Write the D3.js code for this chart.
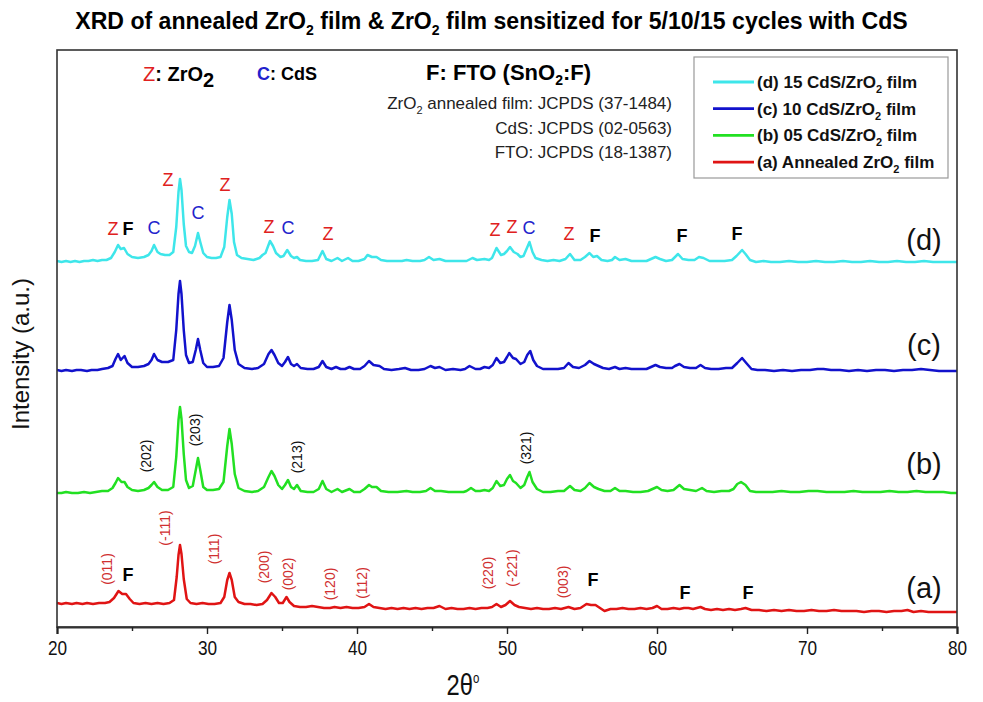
<!DOCTYPE html>
<html>
<head>
<meta charset="utf-8">
<script src="https://cdn.jsdelivr.net/npm/d3@7"></script>
<style>
  body { margin: 0; background: #fff; }
  svg { display: block; }
</style>
</head>
<body>
<div id="chart"></div>
<script>
// XRD scans, [2theta, intensity a.u.] (intensity above each scan's offset)
var scanA = [[20.0,24],[20.3,23],[20.6,24],[21.0,23],[21.3,24],[21.7,23],[22.0,24],[22.4,23],[22.8,24],[23.2,24],[23.5,25],[23.8,29],[24.1,36],[24.35,33],[24.6,33],[24.85,28],[25.1,24],[25.5,23],[25.9,24],[26.3,23],[26.7,24],[27.1,23],[27.5,24],[27.8,27],[27.98,50],[28.1,72],[28.2,82],[28.3,73],[28.45,48],[28.65,28],[28.9,24],[29.3,23],[29.7,24],[30.1,23],[30.5,23],[30.9,24],[31.15,30],[31.35,47],[31.5,54],[31.65,47],[31.85,30],[32.1,25],[32.5,23],[32.9,23],[33.3,22],[33.7,23],[34.0,27],[34.3,34],[34.55,30],[34.8,24],[35.05,24],[35.3,30],[35.5,25],[35.8,21],[36.2,20],[36.6,20],[37.0,21],[37.4,20],[37.8,19],[38.2,19],[38.5,20],[38.9,19],[39.3,20],[39.7,19],[40.1,19],[40.5,20],[40.8,23],[41.1,20],[41.5,19],[41.9,18],[42.3,19],[42.7,18],[43.1,19],[43.5,18],[43.9,19],[44.3,18],[44.7,19],[45.1,19],[45.5,21],[45.9,18],[46.3,19],[46.7,18],[47.1,18],[47.5,19],[47.9,18],[48.3,19],[48.7,19],[49.0,20],[49.3,23],[49.6,20],[49.9,22],[50.2,26],[50.5,22],[50.8,20],[51.2,19],[51.6,18],[52.0,19],[52.4,18],[52.8,18],[53.2,19],[53.6,18],[54.1,20],[54.5,18],[54.9,19],[55.3,23],[55.6,22],[55.9,22],[56.2,19],[56.5,16],[56.9,18],[57.3,18],[57.7,19],[58.1,18],[58.5,18],[58.9,19],[59.3,18],[59.7,19],[60.0,21],[60.3,18],[60.7,18],[61.1,19],[61.5,18],[61.8,19],[62.1,19],[62.4,18],[62.9,20],[63.2,18],[63.6,17],[64.0,18],[64.4,17],[64.8,18],[65.2,17],[65.6,18],[65.9,19],[66.3,17],[66.8,17],[67.3,16],[67.8,17],[68.3,16],[68.8,17],[69.3,16],[69.8,16],[70.3,17],[70.8,16],[71.3,16],[71.8,17],[72.3,16],[72.8,16],[73.3,16],[73.8,15],[74.3,16],[74.8,16],[75.3,15],[75.8,16],[76.3,16],[76.7,17],[77.1,15],[77.6,16],[78.1,15],[78.6,15],[79.1,15],[79.6,15],[80.0,15]];
var scanB = [[20.0,19],[20.3,19],[20.6,20],[21.0,19],[21.4,19],[21.8,20],[22.2,19],[22.6,20],[23.0,21],[23.4,21],[23.7,24],[23.9,29],[24.07,34],[24.3,30],[24.5,30],[24.7,25],[25.0,22],[25.4,21],[25.8,22],[26.1,24],[26.3,27],[26.47,30],[26.7,25],[27.0,22],[27.4,22],[27.75,25],[27.95,55],[28.1,92],[28.2,105],[28.3,93],[28.45,58],[28.6,32],[28.8,24],[29.05,26],[29.25,42],[29.4,54],[29.55,42],[29.75,25],[30.0,22],[30.4,22],[30.8,23],[31.1,30],[31.35,66],[31.5,83],[31.65,68],[31.85,38],[32.1,24],[32.5,21],[33.0,20],[33.4,21],[33.8,25],[34.1,35],[34.3,41],[34.5,36],[34.75,27],[35.0,23],[35.2,27],[35.4,32],[35.6,25],[35.8,23],[36.0,27],[36.25,21],[36.7,20],[37.1,20],[37.45,23],[37.7,31],[37.95,23],[38.3,20],[38.7,23],[39.0,20],[39.5,23],[39.8,20],[40.2,20],[40.5,23],[40.8,27],[41.0,25],[41.3,25],[41.6,21],[42.1,20],[42.7,20],[43.3,21],[43.7,20],[44.2,20],[44.6,21],[44.9,24],[45.2,21],[45.6,21],[46.1,20],[46.6,20],[47.1,20],[47.3,21],[47.6,24],[47.9,21],[48.2,21],[48.5,22],[48.8,21],[49.05,24],[49.3,31],[49.55,26],[49.8,27],[50.0,33],[50.2,37],[50.4,31],[50.6,29],[50.9,24],[51.15,27],[51.35,35],[51.5,40],[51.7,30],[52.0,23],[52.4,20],[52.9,20],[53.4,21],[53.8,21],[54.2,26],[54.5,22],[54.9,21],[55.2,24],[55.5,29],[55.8,25],[56.1,23],[56.5,21],[56.9,21],[57.2,24],[57.5,21],[57.9,21],[58.4,20],[58.9,20],[59.4,21],[59.7,23],[60.0,25],[60.3,22],[60.7,21],[61.1,22],[61.5,27],[61.8,23],[62.2,22],[62.6,21],[63.0,24],[63.3,21],[63.8,20],[64.3,21],[64.8,21],[65.1,23],[65.35,28],[65.6,30],[65.9,27],[66.2,21],[66.6,20],[67.1,20],[67.7,20],[68.3,21],[68.9,20],[69.5,20],[70.1,21],[70.7,21],[71.3,20],[71.9,20],[72.5,20],[73.1,21],[73.7,20],[74.3,20],[74.9,20],[75.5,21],[76.1,20],[76.7,20],[77.3,21],[77.9,20],[78.5,20],[79.1,20],[79.6,19],[80.0,19]];
var scanC = [[20.0,20],[20.3,19],[20.6,20],[21.0,19],[21.3,20],[21.6,20],[22.0,19],[22.3,20],[22.7,20],[23.0,21],[23.4,22],[23.7,24],[23.9,31],[24.07,36],[24.25,30],[24.5,34],[24.7,27],[25.0,23],[25.4,23],[25.8,24],[26.1,26],[26.3,30],[26.47,36],[26.7,30],[27.0,28],[27.4,28],[27.75,30],[27.95,60],[28.1,96],[28.2,109],[28.3,96],[28.45,60],[28.6,35],[28.8,27],[29.05,28],[29.25,40],[29.4,51],[29.55,40],[29.75,27],[30.0,23],[30.4,23],[30.8,24],[31.1,32],[31.35,68],[31.5,85],[31.65,70],[31.85,40],[32.1,26],[32.5,22],[33.0,21],[33.4,22],[33.8,26],[34.1,36],[34.3,40],[34.5,35],[34.75,27],[35.0,24],[35.2,28],[35.4,33],[35.6,26],[35.8,24],[36.0,26],[36.25,22],[36.7,21],[37.1,21],[37.45,23],[37.7,29],[37.95,23],[38.3,21],[38.6,23],[38.9,21],[39.2,21],[39.5,23],[39.8,21],[40.2,21],[40.5,24],[40.8,29],[41.1,25],[41.5,24],[41.8,21],[42.3,20],[42.8,21],[43.2,22],[43.6,20],[44.1,20],[44.5,21],[44.9,24],[45.2,22],[45.5,23],[45.9,20],[46.4,21],[46.9,20],[47.2,21],[47.5,24],[47.9,21],[48.2,21],[48.5,23],[48.8,22],[49.05,25],[49.3,32],[49.55,27],[49.8,28],[50.0,33],[50.15,37],[50.4,32],[50.6,31],[50.9,26],[51.15,28],[51.35,35],[51.55,39],[51.75,30],[52.0,24],[52.4,21],[52.9,21],[53.4,21],[53.8,22],[54.1,27],[54.4,23],[54.8,22],[55.2,25],[55.5,29],[55.8,26],[56.1,24],[56.4,22],[56.8,21],[57.2,23],[57.5,21],[57.9,22],[58.3,21],[58.8,21],[59.3,21],[59.6,23],[59.9,25],[60.2,23],[60.6,22],[61.0,22],[61.2,24],[61.5,26],[61.8,23],[62.2,22],[62.6,22],[62.9,25],[63.2,22],[63.6,21],[64.1,21],[64.6,22],[65.0,22],[65.35,27],[65.67,32],[65.95,27],[66.3,21],[66.7,20],[67.2,20],[67.8,19],[68.4,20],[69.0,19],[69.6,20],[70.2,20],[70.7,21],[71.1,21],[71.6,20],[72.2,20],[72.8,19],[73.4,20],[74.0,19],[74.6,20],[75.2,20],[75.8,19],[76.4,20],[77.0,20],[77.6,21],[78.2,20],[78.8,19],[79.4,19],[80.0,19]];
var scanD = [[20.0,21],[20.3,20],[20.6,21],[20.9,20],[21.2,21],[21.5,20],[21.8,21],[22.1,21],[22.4,22],[22.7,21],[23.0,22],[23.3,22],[23.6,24],[23.85,30],[24.07,37],[24.25,33],[24.47,34],[24.7,28],[25.0,25],[25.4,24],[25.8,25],[26.1,27],[26.3,31],[26.47,37],[26.7,30],[26.9,28],[27.2,27],[27.5,27],[27.75,30],[27.95,55],[28.1,90],[28.2,103],[28.3,92],[28.45,58],[28.6,36],[28.8,30],[29.0,29],[29.2,36],[29.4,49],[29.55,40],[29.75,29],[30.0,25],[30.3,24],[30.6,24],[30.9,25],[31.15,35],[31.35,65],[31.5,82],[31.65,68],[31.8,40],[32.0,27],[32.3,24],[32.7,23],[33.1,22],[33.5,24],[33.7,27],[33.9,29],[34.1,37],[34.2,41],[34.4,36],[34.6,29],[34.9,25],[35.1,26],[35.35,32],[35.6,26],[35.8,24],[36.0,25],[36.2,22],[36.6,21],[37.0,21],[37.4,22],[37.7,31],[37.95,23],[38.3,21],[38.7,24],[39.0,21],[39.4,24],[39.7,21],[40.1,21],[40.5,23],[40.7,27],[41.0,25],[41.3,25],[41.6,22],[42.0,21],[42.5,21],[43.0,21],[43.3,22],[43.7,21],[44.2,21],[44.5,22],[44.8,25],[45.1,22],[45.5,23],[45.9,21],[46.4,21],[46.9,21],[47.3,21],[47.7,24],[48.0,22],[48.5,23],[48.8,22],[49.0,24],[49.3,34],[49.6,27],[49.8,28],[50.0,31],[50.2,35],[50.45,30],[50.7,28],[50.9,25],[51.1,26],[51.3,33],[51.5,40],[51.7,30],[51.9,24],[52.3,22],[52.7,21],[53.1,22],[53.5,21],[53.9,23],[54.2,28],[54.5,22],[54.9,22],[55.2,25],[55.5,29],[55.75,25],[56.0,26],[56.3,22],[56.7,21],[57.0,22],[57.2,25],[57.5,22],[57.9,23],[58.3,21],[58.8,21],[59.3,21],[59.6,23],[59.9,25],[60.2,23],[60.6,21],[61.0,22],[61.4,28],[61.7,23],[62.1,22],[62.5,22],[62.8,25],[63.1,24],[63.5,21],[64.0,21],[64.5,21],[65.0,22],[65.3,26],[65.67,32],[65.9,28],[66.2,22],[66.6,20],[67.1,21],[67.6,20],[68.2,20],[68.8,21],[69.4,20],[70.0,20],[70.6,21],[71.2,20],[71.8,20],[72.4,21],[73.0,20],[73.6,20],[74.2,21],[74.8,20],[75.4,20],[76.0,21],[76.6,20],[77.2,20],[77.8,21],[78.4,20],[79.0,20],[79.5,20],[80.0,20]];

var scans = [scanA, scanB, scanC, scanD];
var offsets = [0, 115, 237, 345];              // vertical stacking, a.u.
var scanTags = ['(a)', '(b)', '(c)', '(d)'];
var legendNames = [
  ['(d) 15 CdS/ZrO', '2', ' film'],
  ['(c) 10 CdS/ZrO', '2', ' film'],
  ['(b) 05 CdS/ZrO', '2', ' film'],
  ['(a) Annealed ZrO', '2', ' film']
];
var xTicks = [20, 30, 40, 50, 60, 70, 80];
var xMinorTicks = [25, 35, 45, 55, 65, 75];

// phase marks on scan (d): [2theta, height above offset, phase]
var phaseMarksD = [[23.73,53,'Z'],[24.73,53,'F'],[26.47,54,'C'],[27.4,102,'Z'],[29.4,69,'C'],[31.2,97,'Z'],[34.13,55,'Z'],[35.4,54,'C'],[38.07,48,'Z'],[49.2,52,'Z'],[50.33,55,'Z'],[51.47,54,'C'],[54.13,48,'Z'],[55.87,46,'F'],[61.67,46,'F'],[65.33,48,'F']];
// ZrO2 planes on scan (a)
var hklA = [[23.33,58,'(011)'],[27.2,99,'(-111)'],[30.47,78,'(111)'],[33.8,60,'(200)'],[35.4,53,'(002)'],[38.2,43,'(120)'],[40.33,44,'(112)'],[48.73,54,'(220)'],[50.33,59,'(-221)'],[53.73,45,'(003)']];
var ftoA = [[24.73,52],[55.73,47],[61.87,34],[66.07,34]];
// CdS planes on scan (b)
var hklB = [[25.93,56,'(202)'],[29.2,82,'(203)'],[36.0,55,'(213)'],[51.27,64,'(321)']];
var tagPos = [[77.8,39],[77.8,48],[77.8,45],[77.8,42]];

var colors = ['#e01414', '#22e022', '#1212cc', '#3ee6ea'];
var phaseColors = {Z: '#e02020', C: '#2222cc', F: '#000'};

var width = 983, height = 702;
var sans = '"Liberation Sans", Arial, sans-serif';
var narrowX = 0.82;   // Arial Narrow look from Liberation Sans

var svg = d3.select('#chart').append('svg')
  .attr('width', width)
  .attr('height', height)
  .style('font-family', sans);

var x = d3.scaleLinear().domain([20, 80]).range([57, 957]);
var y = d3.scaleLinear().domain([0, 577]).range([627, 50]);

// parts: {t, sub: dy for a subscript/superscript, back: dy to return}
function richText(sel, parts, subSize) {
  parts.forEach(function (p) {
    var t = sel.append('tspan').text(p.t);
    if (p.fill) t.attr('fill', p.fill);
    if (p.weight) t.attr('font-weight', p.weight);
    if (p.sub) t.attr('font-size', subSize).attr('dy', p.sub);
    if (p.back) t.attr('dy', p.back);
  });
  return sel;
}

// title, squeezed to the reference width
var titleG = svg.append('g').attr('transform', 'translate(' + 491.5 + ',29)');
var title = titleG.append('text')
  .attr('text-anchor', 'middle')
  .attr('font-weight', 'bold')
  .attr('font-size', 23);
richText(title, [
  {t: 'XRD of annealed ZrO'}, {t: '2', sub: 6}, {t: ' film & ZrO', back: -6}, {t: '2', sub: 6},
  {t: ' film sensitized for 5/10/15 cycles with CdS', back: -6}
], 14);
var tw = title.node().getComputedTextLength();
title.attr('transform', 'scale(' + (833 / tw) + ',1)');

// clip + scans
svg.append('clipPath').attr('id', 'plotclip').append('rect')
  .attr('x', 57).attr('y', 50).attr('width', 900).attr('height', 577);

var plot = svg.append('g').attr('clip-path', 'url(#plotclip)');
scans.forEach(function (scan, i) {
  var line = d3.line()
    .x(function (d) { return x(d[0]); })
    .y(function (d) { return y(d[1] + offsets[i]); });
  plot.append('path')
    .datum(scan)
    .attr('fill', 'none')
    .attr('stroke', colors[i])
    .attr('stroke-width', 2.5)
    .attr('stroke-linejoin', 'round')
    .attr('d', line);
});

// frame
svg.append('rect')
  .attr('x', 57).attr('y', 50).attr('width', 900).attr('height', 577)
  .attr('fill', 'none').attr('stroke', '#333').attr('stroke-width', 1.6);

// x axis
var xAxis = svg.append('g').attr('transform', 'translate(0,627)')
  .call(d3.axisBottom(x).tickValues(xTicks).tickSize(7).tickPadding(6).tickFormat(d3.format('d')));
svg.append('g').attr('transform', 'translate(0,627)')
  .call(d3.axisBottom(x).tickValues(xMinorTicks).tickSize(4).tickFormat(''))
  .select('.domain').remove();
xAxis.select('.domain').attr('stroke', '#333').attr('stroke-width', 2.2);
svg.selectAll('.tick line').attr('stroke', '#222').attr('stroke-width', 1.4);
xAxis.selectAll('.tick text')
  .style('font-family', sans)
  .attr('font-size', 21)
  .attr('fill', '#111')
  .attr('transform', 'scale(' + narrowX + ',1)');

var xlG = svg.append('g').attr('transform', 'translate(463,695) scale(' + narrowX + ',1)');
var xl = xlG.append('text')
  .attr('text-anchor', 'middle')
  .attr('font-size', 29)
  .attr('fill', '#111');
richText(xl, [{t: '2\u03B8'}, {t: 'o', sub: -12}], 14);

svg.append('text')
  .attr('transform', 'translate(29,354) rotate(-90)')
  .attr('text-anchor', 'middle')
  .attr('font-size', 24)
  .attr('fill', '#111')
  .text('Intensity (a.u.)');

// phase key at the top
var key1 = svg.append('text').attr('x', 143).attr('y', 81).attr('font-size', 20).attr('font-weight', 'bold');
richText(key1, [{t: 'Z', fill: '#e02020', weight: 'normal'}, {t: ': ZrO'}, {t: '2', sub: 6}], 20);
var key2 = svg.append('text').attr('x', 257).attr('y', 80).attr('font-size', 18).attr('font-weight', 'bold');
richText(key2, [{t: 'C', fill: '#2222cc'}, {t: ': CdS'}], 18);
var key3 = svg.append('text').attr('x', 426).attr('y', 80).attr('font-size', 22).attr('font-weight', 'bold');
richText(key3, [{t: 'F: FTO (SnO'}, {t: '2', sub: 5}, {t: ':F)', back: -5}], 14);

var jcpds = [
  [{t: 'ZrO'}, {t: '2', sub: 5}, {t: ' annealed film: JCPDS (37-1484)', back: -5}],
  [{t: 'CdS: JCPDS (02-0563)'}],
  [{t: 'FTO: JCPDS (18-1387)'}]
];
jcpds.forEach(function (parts, i) {
  var t = svg.append('text')
    .attr('x', 672).attr('y', 109 + i * 24.5)
    .attr('text-anchor', 'end')
    .attr('font-size', 17)
    .attr('fill', '#222');
  richText(t, parts, 11);
});

// legend
var lg = svg.append('g');
lg.append('rect')
  .attr('x', 694).attr('y', 57).attr('width', 254).attr('height', 121)
  .attr('fill', '#fff').attr('stroke', '#999').attr('stroke-width', 1.2);
legendNames.forEach(function (nm, i) {
  var cy = 82 + i * 26.7;
  lg.append('line')
    .attr('x1', 713).attr('x2', 754).attr('y1', cy).attr('y2', cy)
    .attr('stroke', colors[3 - i]).attr('stroke-width', 2.8);
  var t = lg.append('text')
    .attr('x', 757).attr('y', cy + 6)
    .attr('font-size', 17).attr('font-weight', 'bold').attr('fill', '#111');
  richText(t, [{t: nm[0]}, {t: nm[1], sub: 5}, {t: nm[2], back: -5}], 11);
});

// phase letters on (d)
svg.append('g').selectAll('text')
  .data(phaseMarksD)
  .join('text')
  .attr('x', function (d) { return x(d[0]); })
  .attr('y', function (d) { return y(d[1] + offsets[3]); })
  .attr('dy', '0.35em')
  .attr('text-anchor', 'middle')
  .attr('font-size', 18)
  .attr('font-weight', function (d) { return d[2] === 'F' ? 'bold' : 'normal'; })
  .attr('fill', function (d) { return phaseColors[d[2]]; })
  .text(function (d) { return d[2]; });

// rotated plane labels
function planeLabels(data, off, fill) {
  svg.append('g').selectAll('text')
    .data(data)
    .join('text')
    .attr('transform', function (d) {
      return 'translate(' + x(d[0]) + ',' + y(d[1] + off) + ') rotate(-90)';
    })
    .attr('dy', '0.35em')
    .attr('text-anchor', 'middle')
    .attr('font-size', 14)
    .attr('fill', fill)
    .text(function (d) { return d[2]; });
}
planeLabels(hklA, offsets[0], '#d03030');
planeLabels(hklB, offsets[1], '#111');

svg.append('g').selectAll('text')
  .data(ftoA)
  .join('text')
  .attr('x', function (d) { return x(d[0]); })
  .attr('y', function (d) { return y(d[1] + offsets[0]); })
  .attr('dy', '0.35em')
  .attr('text-anchor', 'middle')
  .attr('font-size', 18)
  .attr('font-weight', 'bold')
  .text('F');

// scan tags
svg.append('g').selectAll('text')
  .data(scanTags)
  .join('text')
  .attr('x', function (d, i) { return x(tagPos[i][0]); })
  .attr('y', function (d, i) { return y(tagPos[i][1] + offsets[i]); })
  .attr('dy', '0.35em')
  .attr('text-anchor', 'middle')
  .attr('font-size', 29)
  .attr('fill', '#111')
  .text(function (d) { return d; });
</script>
</body>
</html>
